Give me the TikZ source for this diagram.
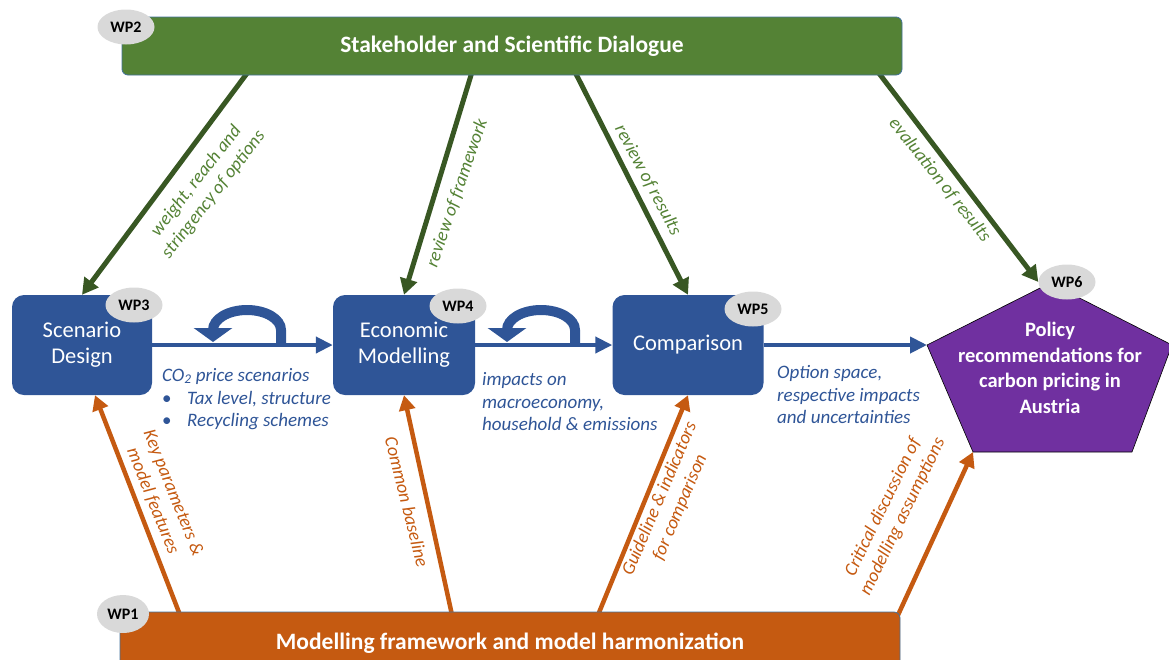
\documentclass[tikz,border=0pt]{standalone}
\usepackage{fontspec}
\setmainfont{Carlito}
\usetikzlibrary{arrows.meta,positioning,calc,shapes.geometric}
\definecolor{wpgreen}{RGB}{84,130,53}
\definecolor{darkgreen}{RGB}{56,87,35}
\definecolor{wpblue}{RGB}{47,85,151}
\definecolor{wporange}{RGB}{197,90,17}
\definecolor{wppurple}{RGB}{112,48,160}
\definecolor{wpgrey}{RGB}{217,217,217}
\definecolor{edgeblue}{RGB}{65,113,156}

\begin{document}
\begin{tikzpicture}[x=1pt,y=-1pt,
    wpbox/.style={fill=wpblue,rounded corners=12pt,minimum height=100pt,inner sep=0pt,
      text=white,align=center,font=\fontsize{22.5}{26}\selectfont},
    wptag/.style={ellipse,fill=wpgrey,minimum width=57pt,minimum height=35pt,inner sep=0pt,
      font=\bfseries\fontsize{16}{18}\selectfont},
    wpbar/.style={draw=edgeblue,line width=0.8pt,rounded corners=6pt,minimum width=780pt,
      minimum height=58pt,text=white,font=\bfseries\fontsize{23.5}{28}\selectfont},
    garrow/.style={draw=darkgreen,line width=5pt,-{Triangle[width=17pt,length=16pt]}},
    oarrow/.style={draw=wporange,line width=4.5pt,-{Triangle[width=16pt,length=15pt]}},
    barrow/.style={draw=wpblue,line width=4pt,-{Triangle[width=16pt,length=17pt]}},
    loop/.style={draw=wpblue,line width=10pt,-{Triangle[width=38pt,length=14pt]}},
    glabel/.style={text=wpgreen,align=center,font=\itshape\fontsize{18.5}{22}\selectfont},
    olabel/.style={text=wporange,align=center,font=\itshape\fontsize{18.5}{22}\selectfont},
    blabel/.style={text=wpblue,align=left,inner sep=0pt,anchor=north west,
      font=\itshape\fontsize{19}{22.8}\selectfont}]
  \clip (0,0) rectangle (1169,659);

  \node[wpbox,minimum width=140pt] (sd) at (82,345) {Scenario\\Design};
  \node[wpbox,minimum width=142pt] (em) at (404,345) {Economic\\Modelling};
  \node[wpbox,minimum width=151pt] (cmp) at (688,345) {Comparison};

  \coordinate (ptop) at (1050,283);
  \coordinate (pright) at (1172,345);
  \coordinate (pbr) at (1132,452);
  \coordinate (pbl) at (973,452);
  \coordinate (pleft) at (927,345);
  \fill[wppurple,draw=black,line width=0.6pt] (ptop) -- (pright) -- (pbr) -- (pbl) -- (pleft) -- cycle;
  \node[text=white,align=center,font=\bfseries\fontsize{20.5}{25.5}\selectfont] (policy) at (1050,368)
    {Policy\\recommendations for\\carbon pricing in\\Austria};

  \node[wptag] (wp3) at (134,305) {WP3};
  \node[wptag] (wp4) at (458,306) {WP4};
  \node[wptag] (wp5) at (753,309) {WP5};
  \node[wptag] (wp6) at (1067,282) {WP6};

  \draw[barrow] (sd.east) -- (em.west);
  \draw[barrow] (em.east) -- (cmp.west);
  \draw[barrow] (cmp.east) -- (pleft);
  \draw[loop] (281,343) -- (281,330) arc[start angle=0,end angle=-180,x radius=34,y radius=20] -- ++(0,12);
  \draw[loop] (575,343) -- (575,330) arc[start angle=0,end angle=-180,x radius=34,y radius=20] -- ++(0,12);

  \node[blabel] (co2) at (162,368) {CO\textsubscript{2} price scenarios\\
    \makebox[25pt][l]{\upshape\textbullet}Tax level, structure\\
    \makebox[25pt][l]{\upshape\textbullet}Recycling schemes};
  \node[blabel] (impacts) at (482,372) {impacts on\\macroeconomy,\\household \& emissions};
  \node[blabel] (options) at (777,365) {Option space,\\respective impacts\\and uncertainties};

  \coordinate (g1) at (248,72);
  \coordinate (g2) at (472,72);
  \coordinate (g3) at (575,72);
  \coordinate (g4) at (878,72);
  \draw[garrow] (g1) -- (sd.north);
  \draw[garrow] (g2) -- (em.north);
  \draw[garrow] (g3) -- (cmp.north);
  \draw[garrow] (g4) -- (wp6.west);
  \node[glabel,rotate=52] (weight) at (205,188) {weight, reach and\\stringency of options};
  \node[glabel,rotate=71] (framework) at (457,193) {review of framework};
  \node[glabel,rotate=-62] (results) at (648,180) {review of results};
  \node[glabel,rotate=-51.5] (evaluation) at (940,180) {evaluation of results};

  \coordinate (o1) at (180,615);
  \coordinate (o2) at (452,615);
  \coordinate (o3) at (598,615);
  \coordinate (o4) at (898,615);
  \draw[oarrow] (o1) -- ([xshift=13pt]sd.south);
  \draw[oarrow] (o2) -- (em.south);
  \draw[oarrow] (o3) -- (cmp.south);
  \draw[oarrow] (o4) -- (pbl);
  \node[olabel,rotate=-68] (keypar) at (163,497) {Key parameters \&\\model features};
  \node[olabel,rotate=-76] (baseline) at (407,502) {Common baseline};
  \node[olabel,rotate=67] (guideline) at (670,503) {Guideline \& indicators\\for comparison};
  \node[olabel,rotate=64] (critical) at (893,512) {Critical discussion of\\modelling assumptions};

  \node[wpbar,fill=wpgreen] (dialog) at (512,46) {Stakeholder and Scientific Dialogue};
  \node[wpbar,fill=wporange,text depth=0pt] (harmon) at (510,641) {Modelling framework and model harmonization};
  \node[wptag] (wp2) at (126,27) {WP2};
  \node[wptag,minimum width=52pt,minimum height=38pt] (wp1) at (123,614) {WP1};
\end{tikzpicture}
\end{document}
